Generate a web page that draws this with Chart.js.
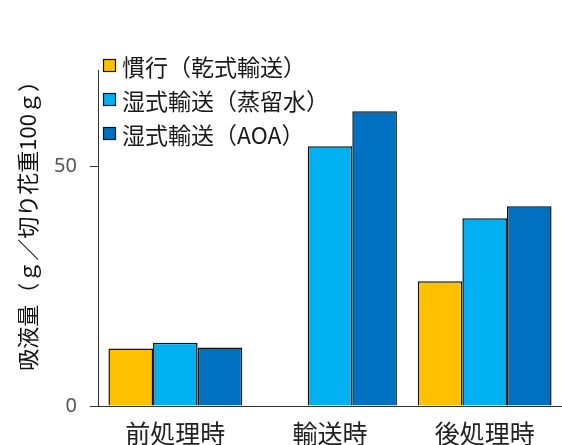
<!DOCTYPE html>
<html>
<head>
<meta charset="utf-8">
<script src="https://cdn.jsdelivr.net/npm/chart.js@4"></script>
<style>
html,body{margin:0;padding:0;background:#fff;}
#wrap{width:562px;height:445px;position:relative;}
</style>
</head>
<body>
<div id="wrap"><canvas id="c"></canvas></div>
<script>
const categories = ['前処理時', '輸送時', '後処理時'];
const seriesNames = ['慣行（乾式輸送）', '湿式輸送（蒸留水）', '湿式輸送（AOA）'];
const conventional = [12.0, null, 26.0];
const wetWater = [13.2, 54.1, 39.1];
const wetAOA = [12.2, 61.4, 41.6];
const yTicks = [0, 50];
const yMax = 70;
const yTitle = '吸液量（ｇ／切り花重100ｇ）';
const colors = ['#FFC000', '#00B0F0', '#0070C0'];

const FONT = "'Noto Sans CJK JP', 'Noto Sans', sans-serif";

const legendPlugin = {
  id: 'customLegend',
  afterDraw(chart) {
    const ctx = chart.ctx;
    ctx.save();
    ctx.font = '23px ' + FONT;
    ctx.textBaseline = 'middle';
    ctx.textAlign = 'left';
    const rows = [66, 100, 134];
    chart.data.datasets.forEach((ds, i) => {
      const y = rows[i];
      ctx.fillStyle = ds.backgroundColor;
      ctx.fillRect(103.5, y - 6.5, 12, 12);
      ctx.strokeStyle = '#111';
      ctx.lineWidth = 1.2;
      ctx.strokeRect(103.5, y - 6.5, 12, 12);
      ctx.fillStyle = '#1a1a1a';
      ctx.fillText(ds.label, 122, y + 1);
    });
    ctx.restore();
  }
};

new Chart(document.getElementById('c'), {
  type: 'bar',
  data: {
    labels: categories,
    datasets: [
      {label: seriesNames[0], data: conventional, backgroundColor: colors[0]},
      {label: seriesNames[1], data: wetWater, backgroundColor: colors[1]},
      {label: seriesNames[2], data: wetAOA, backgroundColor: colors[2]}
    ].map(d => Object.assign(d, {borderColor: '#111', borderWidth: 1.5, borderSkipped: 'bottom',
      categoryPercentage: 0.865, barPercentage: 1.0}))
  },
  options: {
    responsive: true,
    maintainAspectRatio: false,
    animation: false,
    layout: {padding: {top: 70, right: 0, left: 0, bottom: 0}},
    plugins: {legend: {display: false}, tooltip: {enabled: false}},
    scales: {
      x: {
        grid: {display: false, drawTicks: false},
        border: {display: true, color: '#333', width: 1},
        ticks: {font: {family: FONT, size: 25}, color: '#222', padding: 12, maxRotation: 0, autoSkip: false},
        afterFit(s) { s.height = 39; }
      },
      y: {
        min: 0,
        max: yMax,
        afterBuildTicks(s) { s.ticks = yTicks.map(v => ({value: v})); },
        grid: {drawOnChartArea: false, drawTicks: true, tickLength: 8, color: '#333'},
        border: {display: true, color: '#333', width: 1},
        ticks: {font: {family: "'Noto Sans', sans-serif", size: 20}, color: '#555', padding: 13},
        title: {display: true, text: yTitle, align: 'end', color: '#111',
          font: {family: FONT, size: 22}, padding: {top: 14, bottom: 0}},
        afterFit(s) { s.width = 98; }
      }
    }
  },
  plugins: [legendPlugin]
});
</script>
</body>
</html>
